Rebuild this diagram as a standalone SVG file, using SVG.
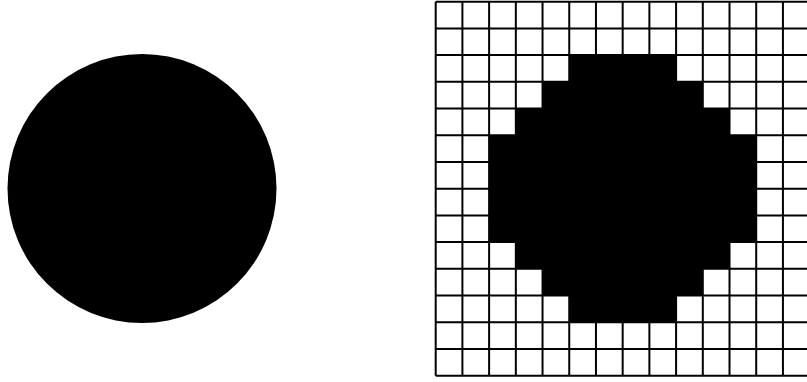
<svg xmlns="http://www.w3.org/2000/svg" width="807" height="382" viewBox="0 0 807 382">
<style>
.grid{fill:none;stroke:#000;stroke-width:2}
.ink{fill:#000}
</style>
<rect width="807" height="382" fill="#fff"/>
<g id="circle">
<circle class="ink" cx="142" cy="188.5" r="134.5"/>
</g>
<g id="raster" transform="translate(435.7,1.7)">
<path class="ink" d="M133.55,53.42 H240.39 V80.13 H267.1 V106.84 H293.81 V133.55 H320.52 V240.39 H293.81 V267.1 H267.1 V293.81 H240.39 V320.52 H133.55 V293.81 H106.84 V267.1 H80.13 V240.39 H53.42 V133.55 H80.13 V106.84 H106.84 V80.13 H133.55 Z"/>
<path class="grid" d="M0,0V373.94 M26.71,0V373.94 M53.42,0V373.94 M80.13,0V373.94 M106.84,0V373.94 M133.55,0V373.94 M160.26,0V373.94 M186.97,0V373.94 M213.68,0V373.94 M240.39,0V373.94 M267.1,0V373.94 M293.81,0V373.94 M320.52,0V373.94 M347.23,0V373.94 M373.94,0V373.94 M0,0H373.94 M0,26.71H373.94 M0,53.42H373.94 M0,80.13H373.94 M0,106.84H373.94 M0,133.55H373.94 M0,160.26H373.94 M0,186.97H373.94 M0,213.68H373.94 M0,240.39H373.94 M0,267.1H373.94 M0,293.81H373.94 M0,320.52H373.94 M0,347.23H373.94 M0,373.94H373.94"/>
</g>
</svg>
